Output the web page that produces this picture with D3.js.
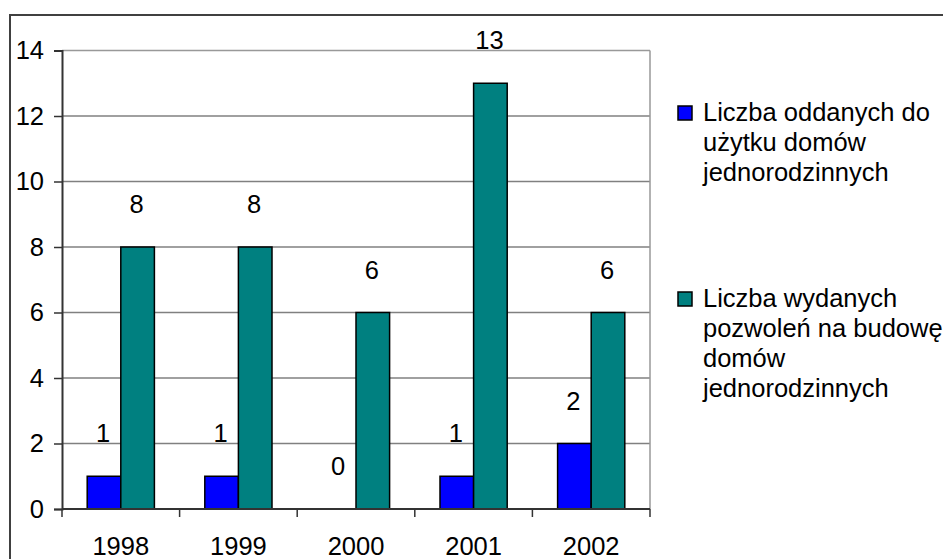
<!DOCTYPE html>
<html>
<head>
<meta charset="utf-8">
<script src="https://cdn.jsdelivr.net/npm/d3@7"></script>
<style>
  body { margin: 0; background: #fff; }
  text { font-family: "Liberation Sans", Arial, sans-serif; fill: #000; }
</style>
</head>
<body>
<svg id="chart" width="943" height="559"></svg>
<script>
// data
var years = ["1998", "1999", "2000", "2001", "2002"];
var oddane = [1, 1, 0, 1, 2];          // domy oddane do użytku
var pozwolenia = [8, 8, 6, 13, 6];     // wydane pozwolenia
var yTicks = [0, 2, 4, 6, 8, 10, 12, 14];
var seriesNames = [
    ["Liczba oddanych do", "użytku domów", "jednorodzinnych"],
    ["Liczba wydanych", "pozwoleń na budowę", "domów", "jednorodzinnych"]
];
var colors = ["#0000ff", "#008080"];

var svg = d3.select("#chart");
var fs = 25.5;

// outer chart frame
svg.append("rect")
    .attr("x", 10).attr("y", 15)
    .attr("width", 1000).attr("height", 600)
    .attr("fill", "none")
    .attr("stroke", "#404040")
    .attr("stroke-width", 2);

var plotL = 62, plotR = 650, plotT = 50.5, plotB = 509;

var x = d3.scaleBand().domain(years).range([plotL, plotR]);
var y = d3.scaleLinear().domain([0, 14]).range([plotB, plotT]);
var barW = x.bandwidth() / 3.5;
var sub = d3.scaleBand().domain([0, 1])
    .range([0, barW * 2]);

// gridlines
svg.append("g").selectAll("line")
    .data(yTicks.filter(function (d) { return d > 0; }))
    .join("line")
    .attr("x1", plotL).attr("x2", plotR)
    .attr("y1", function (d) { return y(d); })
    .attr("y2", function (d) { return y(d); })
    .attr("stroke", function (d) { return d == 14 ? "#999" : "#808080"; })
    .attr("stroke-width", 1.5);

// right border of plot
svg.append("line")
    .attr("x1", plotR).attr("x2", plotR)
    .attr("y1", plotT).attr("y2", plotB)
    .attr("stroke", "#999").attr("stroke-width", 1.5);

// bars
var series = [oddane, pozwolenia];
series.forEach(function (vals, si) {
    var g = svg.append("g");
    g.selectAll("rect")
        .data(vals)
        .join("rect")
        .attr("x", function (d, i) {
            return x(years[i]) + (x.bandwidth() - barW * 2) / 2 + sub(si);
        })
        .attr("y", function (d) { return y(d); })
        .attr("width", barW)
        .attr("height", function (d) { return plotB - y(d); })
        .attr("fill", colors[si])
        .attr("stroke", "#000")
        .attr("stroke-width", 1.5);

    g.selectAll("text")
        .data(vals)
        .join("text")
        .attr("x", function (d, i) {
            return x(years[i]) + (x.bandwidth() - barW * 2) / 2 + sub(si) + barW / 2 - 1;
        })
        .attr("y", function (d) { return y(d) - 43 + 9; })
        .attr("text-anchor", "middle")
        .attr("font-size", fs)
        .text(function (d) { return d; });
});

// y axis
var yAxis = d3.axisLeft(y).tickValues(yTicks).tickSize(8).tickPadding(10)
    .tickFormat(d3.format("d"));
var ya = svg.append("g")
    .attr("transform", "translate(" + plotL + ",0)")
    .call(yAxis);
ya.select(".domain").attr("stroke", "#333").attr("stroke-width", 2);
ya.selectAll(".tick line").attr("stroke", "#333").attr("stroke-width", 1.5);
ya.selectAll(".tick text")
    .attr("font-size", fs)
    .attr("font-family", "Liberation Sans, Arial, sans-serif")
    .attr("fill", "#000");

// x axis: ticks on category boundaries
var xa = svg.append("g")
    .attr("transform", "translate(0," + plotB + ")");
xa.append("line")
    .attr("x1", plotL).attr("x2", plotR)
    .attr("stroke", "#333").attr("stroke-width", 2);
xa.selectAll("line.tk")
    .data(years.concat(["end"]))
    .join("line")
    .attr("class", "tk")
    .attr("x1", function (d, i) { return plotL + i * x.bandwidth(); })
    .attr("x2", function (d, i) { return plotL + i * x.bandwidth(); })
    .attr("y1", 0).attr("y2", 8)
    .attr("stroke", "#333").attr("stroke-width", 1.5);
xa.selectAll("text")
    .data(years)
    .join("text")
    .attr("x", function (d) { return x(d) + x.bandwidth() / 2; })
    .attr("y", 46)
    .attr("text-anchor", "middle")
    .attr("font-size", fs)
    .text(function (d) { return d; });

// legend
var legendTop = [112, 298];
seriesNames.forEach(function (lines, si) {
    var g = svg.append("g");
    g.append("rect")
        .attr("x", 678).attr("y", legendTop[si] - 6)
        .attr("width", 14).attr("height", 14)
        .attr("fill", colors[si])
        .attr("stroke", "#000").attr("stroke-width", 1.5);
    g.selectAll("text")
        .data(lines)
        .join("text")
        .attr("x", 703)
        .attr("y", function (d, i) { return legendTop[si] + 9 + i * 30; })
        .attr("font-size", fs)
        .text(function (d) { return d; });
});
</script>
</body>
</html>
